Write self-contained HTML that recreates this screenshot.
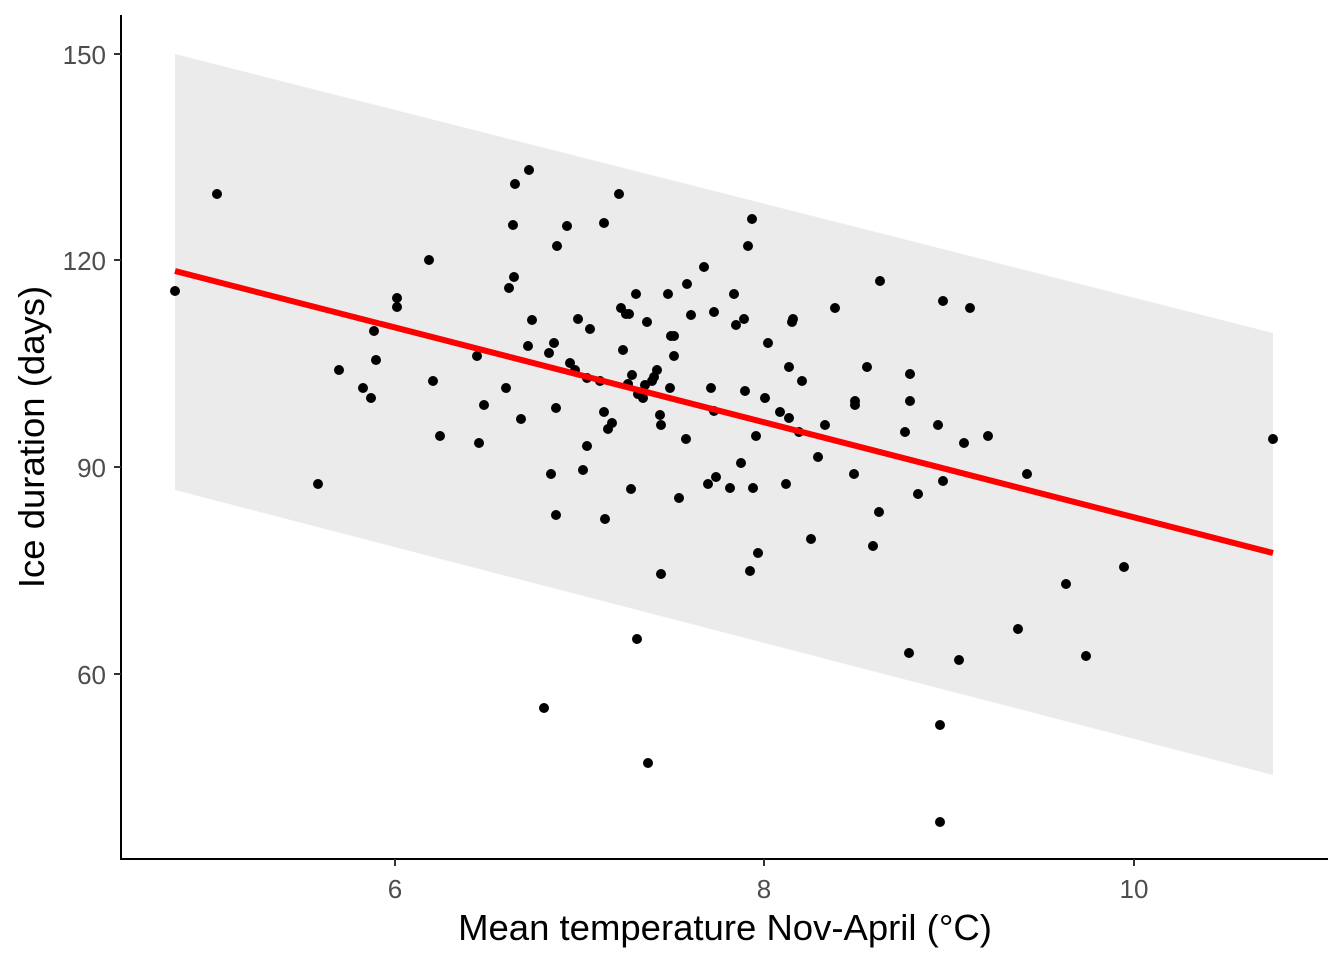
<!DOCTYPE html>
<html><head><meta charset="utf-8"><style>
html,body{margin:0;padding:0;background:#fff}
svg{display:block}
text{font-family:"Liberation Sans",Arial,sans-serif}
</style></head><body>
<svg width="1344" height="960" viewBox="0 0 1344 960" xmlns="http://www.w3.org/2000/svg">
<rect width="1344" height="960" fill="#fff"/>
<polygon points="175,54 1273,333 1273,775 175,490" fill="#ebebeb"/>
<g fill="#000" id="pts"></g>
<line x1="175" y1="271" x2="1273" y2="553" stroke="#ff0000" stroke-width="6"/>
<line x1="121" y1="15" x2="121" y2="859" stroke="#000" stroke-width="2"/>
<line x1="120" y1="859" x2="1328" y2="859" stroke="#000" stroke-width="2"/>
<g stroke="#333" stroke-width="2">
<line x1="114" y1="54" x2="121" y2="54"/><line x1="114" y1="260" x2="121" y2="260"/>
<line x1="114" y1="467" x2="121" y2="467"/><line x1="114" y1="674" x2="121" y2="674"/>
<line x1="395" y1="859" x2="395" y2="866"/><line x1="764" y1="859" x2="764" y2="866"/>
<line x1="1134" y1="859" x2="1134" y2="866"/>
</g>
<g fill="#4d4d4d" font-size="26" text-anchor="end">
<text x="106" y="64">150</text><text x="106" y="270">120</text>
<text x="106" y="477">90</text><text x="106" y="684">60</text>
</g>
<g fill="#4d4d4d" font-size="26" text-anchor="middle">
<text x="395" y="898">6</text><text x="764" y="898">8</text><text x="1134" y="898">10</text>
</g>
<text x="725" y="940" font-size="36.5" text-anchor="middle" fill="#000">Mean temperature Nov-April (°C)</text>
<text transform="translate(44,437) rotate(-90)" font-size="36.5" text-anchor="middle" fill="#000">Ice duration (days)</text>
</svg>
<script>
var p=[175,291,217,194,318,484,339,370,363,388,371,398,374,331,376,360,397,298,397,307,429,260,433,381,440,436,477,356,479,443,484,405,506,388,509,288,513,225,514,277,515,184,521,419,529,170,528,346,532,320,544,708,549,353,551,474,554,343,556,408,557,246,556,515,567,226,570,363,575,370,578,319,583,470,587,446,587,378,590,329,600,381,604,223,604,412,605,519,608,429,612,423,619,194,621,308,623,350,626,314,628,384,629,314,631,489,632,375,636,294,637,639,638,394,643,398,645,385,647,322,648,763,652,381,654,377,657,370,660,415,661,425,661,574,668,294,670,388,671,336,674,356,674,336,679,498,686,439,687,284,691,315,704,267,708,484,711,388,714,312,714,411,716,477,730,488,734,294,736,325,741,463,744,319,745,391,748,246,750,571,752,219,753,488,756,436,758,553,765,398,768,343,780,412,786,484,789,418,789,367,792,322,793,319,799,432,802,381,811,539,818,457,825,425,835,308,854,474,855,405,855,401,867,367,873,546,879,512,880,281,905,432,909,653,910,374,910,401,918,494,938,425,940,725,940,822,943,301,943,481,959,660,964,443,970,308,988,436,1018,629,1027,474,1066,584,1086,656,1124,567,1273,439];
var g=document.getElementById('pts'),s='';
for(var i=0;i<p.length;i+=2)s+='<circle cx="'+p[i]+'" cy="'+p[i+1]+'" r="5"/>';
g.innerHTML=s;
</script>
</body></html>
